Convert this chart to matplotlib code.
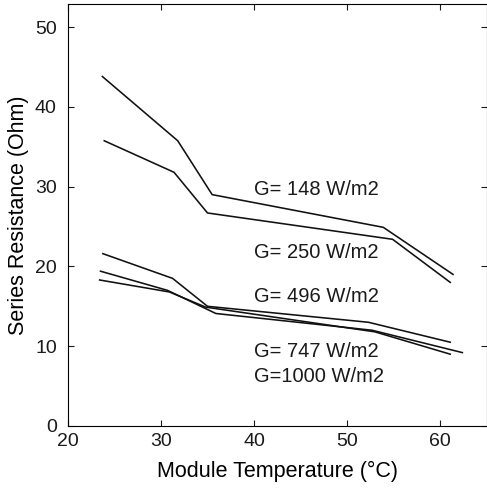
import matplotlib
matplotlib.use("Agg")
import matplotlib.pyplot as plt

# Series resistance vs module temperature for several irradiance levels
temp_148 = [23.7, 31.8, 35.5, 53.9, 61.4]
res_148 = [43.8, 35.75, 29.0, 24.9, 19.0]

temp_250 = [23.9, 31.4, 35.0, 54.9, 61.1]
res_250 = [35.75, 31.8, 26.7, 23.4, 18.0]

temp_496 = [23.75, 31.25, 35.0, 52.3, 61.1]
res_496 = [21.6, 18.5, 15.0, 13.0, 10.5]

temp_747 = [23.5, 30.7, 35.9, 52.7, 62.4]
res_747 = [19.4, 17.0, 14.1, 12.0, 9.2]

temp_1000 = [23.4, 30.9, 34.8, 53.0, 61.1]
res_1000 = [18.3, 16.8, 14.9, 11.8, 9.0]

labels = ["G= 148 W/m2", "G= 250 W/m2", "G= 496 W/m2", "G= 747 W/m2", "G=1000 W/m2"]
label_y = [29.6, 21.7, 16.2, 9.3, 6.2]

plt.rcParams["font.family"] = ["Liberation Sans", "DejaVu Sans"]

fig = plt.figure(figsize=(4.87, 4.91), dpi=100)
ax = fig.add_axes([0.1396, 0.1324, 0.8594, 0.8596])

for t, r in [(temp_148, res_148), (temp_250, res_250), (temp_496, res_496),
             (temp_747, res_747), (temp_1000, res_1000)]:
    ax.plot(t, r, color="#111111", lw=1.15)

for lab, y in zip(labels, label_y):
    ax.text(40.0, y, lab, fontsize=14.5, va="center", ha="left", color="#1a1a1a")

ax.set_xlim(20, 65)
ax.set_ylim(0, 52.9)
ax.set_xticks([20, 30, 40, 50, 60])
ax.set_yticks([0, 10, 20, 30, 40, 50])
ax.tick_params(direction="in", length=4, labelsize=14, top=True, right=True,
               colors="#1a1a1a")
ax.tick_params(axis="y", pad=8)
ax.tick_params(axis="x", pad=5)
ax.set_xlabel("Module Temperature (°C)", fontsize=15.5, labelpad=8)
ax.set_ylabel("Series Resistance (Ohm)", fontsize=15.5, labelpad=4)

fig.savefig("out.png", dpi=100)
plt.close(fig)
